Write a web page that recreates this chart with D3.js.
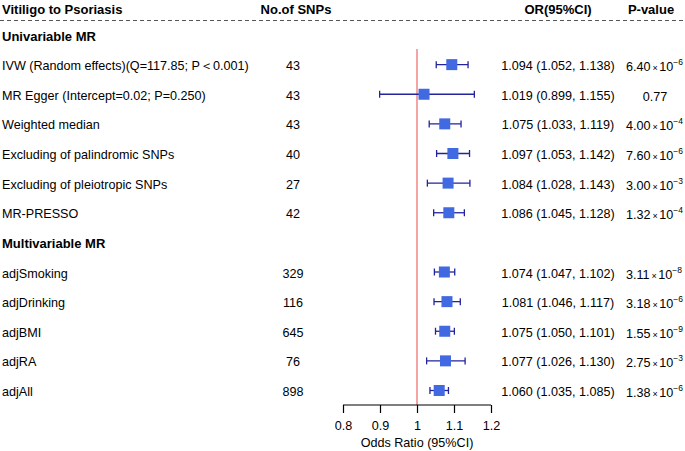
<!DOCTYPE html>
<html lang="en">
<head>
    <meta charset="UTF-8">
    <title>Vitiligo to Psoriasis forest plot</title>
    <script src="https://d3js.org/d3.v7.min.js"></script>
    <style>
        body {
            margin: 0;
            background: #fff;
            font-family: "Liberation Sans", Arial, sans-serif;
        }
        svg text { fill: #000; }
    </style>
</head>
<body>
    <svg width="685" height="451"></svg>
    <script>
        // rows, top to bottom; section headers have no estimate
        const labels = ["Univariable MR",
            "IVW (Random effects)(Q=117.85; P\uFF1C0.001)",
            "MR Egger (Intercept=0.02; P=0.250)",
            "Weighted median",
            "Excluding of palindromic SNPs",
            "Excluding of pleiotropic SNPs",
            "MR-PRESSO",
            "Multivariable MR",
            "adjSmoking", "adjDrinking", "adjBMI", "adjRA", "adjAll"];
        const isSection = [true, false, false, false, false, false, false, true, false, false, false, false, false];
        const snps = [null, 43, 43, 43, 40, 27, 42, null, 329, 116, 645, 76, 898];
        const orValues = [null, 1.094, 1.019, 1.075, 1.097, 1.084, 1.086, null, 1.074, 1.081, 1.075, 1.077, 1.060];
        const lower = [null, 1.052, 0.899, 1.033, 1.053, 1.028, 1.045, null, 1.047, 1.046, 1.050, 1.026, 1.035];
        const upper = [null, 1.138, 1.155, 1.119, 1.142, 1.143, 1.128, null, 1.102, 1.117, 1.101, 1.130, 1.085];
        // p-values as [mantissa, exponent]; exponent null = plain number
        const pValues = [null, ["6.40", -6], ["0.77", null], ["4.00", -4], ["7.60", -6], ["3.00", -3], ["1.32", -4],
            null, ["3.11", -8], ["3.18", -6], ["1.55", -9], ["2.75", -3], ["1.38", -6]];
        const headers = ["Vitiligo to Psoriasis", "No.of SNPs", "OR(95%CI)", "P-value"];
        const xTicks = [0.8, 0.9, 1, 1.1, 1.2];

        const svg = d3.select("svg");
        const width = +svg.attr("width");

        const x = d3.scaleLinear().domain([0.8, 1.2]).range([343, 491]);
        const y = d3.scaleLinear().domain([0, labels.length - 1]).range([35, 390.5]);
        const axisY = 405;
        const fmt = d3.format(".3f");
        const fs = 12.6;

        // column headers
        const colX = [2, 296, 558, 651];
        svg.append("g").selectAll("text")
            .data(headers)
            .join("text")
            .attr("x", (d, i) => colX[i])
            .attr("y", 13.5)
            .attr("text-anchor", (d, i) => i === 0 ? "start" : "middle")
            .attr("font-size", 13)
            .attr("font-weight", "bold")
            .text(d => d);

        svg.append("line")
            .attr("x1", 0).attr("x2", width)
            .attr("y1", 20.5).attr("y2", 20.5)
            .attr("stroke", "#555")
            .attr("stroke-width", 1.2)
            .attr("stroke-dasharray", "4,3");

        const rows = labels.map((d, i) => ({
            label: d, section: isSection[i], n: snps[i],
            or: orValues[i], lo: lower[i], hi: upper[i], p: pValues[i], i
        }));

        // label column
        svg.append("g").selectAll("text")
            .data(rows)
            .join("text")
            .attr("x", 2)
            .attr("y", d => y(d.i) + 5.5)
            .attr("font-size", d => d.section ? 13 : fs)
            .attr("font-weight", d => d.section ? "bold" : "normal")
            .text(d => d.label);

        const est = rows.filter(d => !d.section);

        svg.append("g").selectAll("text")
            .data(est)
            .join("text")
            .attr("x", 293)
            .attr("y", d => y(d.i) + 5.5)
            .attr("text-anchor", "middle")
            .attr("font-size", fs)
            .text(d => d.n);

        svg.append("g").selectAll("text")
            .data(est)
            .join("text")
            .attr("x", 558)
            .attr("y", d => y(d.i) + 5.5)
            .attr("text-anchor", "middle")
            .attr("font-size", fs)
            .text(d => `${fmt(d.or)} (${fmt(d.lo)}, ${fmt(d.hi)})`);

        // p-values with x 10^k notation
        const pText = svg.append("g").selectAll("text")
            .data(est)
            .join("text")
            .attr("x", d => d.p[1] === null ? 655 : 626)
            .attr("y", d => y(d.i) + 6.5)
            .attr("text-anchor", d => d.p[1] === null ? "middle" : "start")
            .attr("font-size", fs);
        pText.each(function(d) {
            const t = d3.select(this);
            t.append("tspan").text(d.p[0]);
            if (d.p[1] !== null) {
                t.append("tspan").attr("dx", 2).attr("font-size", 9).text("\u00D7");
                t.append("tspan").attr("dx", 1.5).text("10");
                t.append("tspan").attr("font-size", 8.5).attr("dy", -6).text("\u2212" + Math.abs(d.p[1]));
            }
        });

        // reference line at OR = 1
        svg.append("line")
            .attr("x1", x(1)).attr("x2", x(1))
            .attr("y1", 49).attr("y2", axisY)
            .attr("stroke", "#f07272")
            .attr("stroke-width", 1.3);

        // confidence intervals
        const ci = svg.append("g")
            .attr("stroke", "#23239b")
            .attr("stroke-width", 1.3);
        ci.selectAll("line.ci")
            .data(est)
            .join("line")
            .attr("class", "ci")
            .attr("x1", d => x(d.lo)).attr("x2", d => x(d.hi))
            .attr("y1", d => y(d.i)).attr("y2", d => y(d.i));
        ci.selectAll("line.capl")
            .data(est)
            .join("line")
            .attr("class", "capl")
            .attr("x1", d => x(d.lo)).attr("x2", d => x(d.lo))
            .attr("y1", d => y(d.i) - 3.5).attr("y2", d => y(d.i) + 3.5);
        ci.selectAll("line.capr")
            .data(est)
            .join("line")
            .attr("class", "capr")
            .attr("x1", d => x(d.hi)).attr("x2", d => x(d.hi))
            .attr("y1", d => y(d.i) - 3.5).attr("y2", d => y(d.i) + 3.5);

        // point estimates
        const box = 11;
        svg.append("g").selectAll("rect")
            .data(est)
            .join("rect")
            .attr("x", d => x(d.or) - box / 2)
            .attr("y", d => y(d.i) - box / 2)
            .attr("width", box)
            .attr("height", box)
            .attr("fill", "#4169e1");

        // x axis
        const axis = svg.append("g")
            .attr("transform", `translate(0,${axisY})`)
            .call(d3.axisBottom(x).tickValues(xTicks).tickSize(8).tickPadding(8)
                .tickFormat(d3.format("")));
        axis.select(".domain").attr("d", `M${x(0.8)},0H${x(1.2)}`).attr("stroke-width", 1.2);
        axis.selectAll(".tick line").attr("stroke-width", 1.2);
        axis.selectAll(".tick text")
            .attr("font-size", fs)
            .attr("font-family", "Liberation Sans, Arial, sans-serif")
            .attr("fill", "#000");

        svg.append("text")
            .attr("x", x(1))
            .attr("y", 447)
            .attr("text-anchor", "middle")
            .attr("font-size", fs)
            .text("Odds Ratio (95%CI)");
    </script>
</body>
</html>
